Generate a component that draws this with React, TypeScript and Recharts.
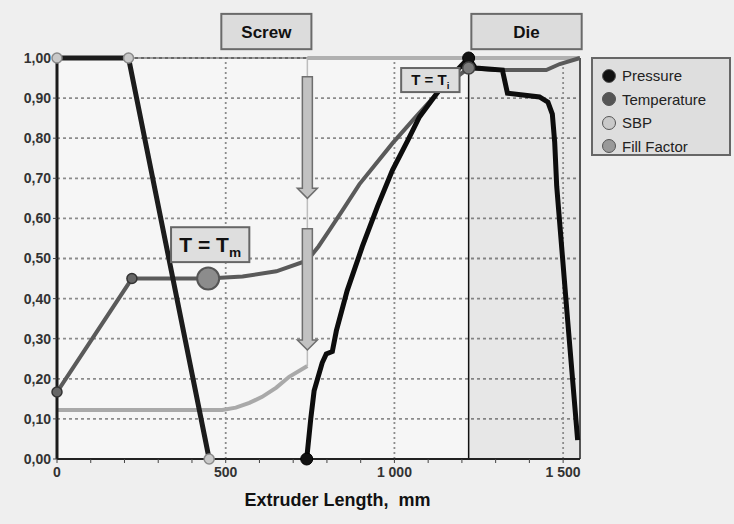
import {
  ComposedChart,
  Line,
  XAxis,
  YAxis,
  CartesianGrid,
  ReferenceArea,
  ReferenceLine,
} from 'recharts';

const xTicks = [0, 100, 200, 300, 400, 500, 600, 700, 800, 900, 1000, 1100, 1200, 1300, 1400, 1500];
const yTicks = [0, 0.1, 0.2, 0.3, 0.4, 0.5, 0.6, 0.7, 0.8, 0.9, 1.0];
const gridX = [500, 1000, 1500];
const dieStart = 1220;
const extruderEnd = 1550;

const pressure = [
  { x: 740, y: 0 }, { x: 752, y: 0.1 }, { x: 762, y: 0.17 }, { x: 786, y: 0.24 },
  { x: 798, y: 0.262 }, { x: 816, y: 0.268 }, { x: 828, y: 0.32 }, { x: 860, y: 0.42 },
  { x: 905, y: 0.53 }, { x: 950, y: 0.63 }, { x: 994, y: 0.72 }, { x: 1040, y: 0.795 },
  { x: 1074, y: 0.853 }, { x: 1133, y: 0.92 }, { x: 1175, y: 0.96 }, { x: 1220, y: 1.0 },
  { x: 1240, y: 0.975 }, { x: 1320, y: 0.97 }, { x: 1335, y: 0.912 }, { x: 1430, y: 0.903 },
  { x: 1455, y: 0.89 }, { x: 1468, y: 0.86 }, { x: 1475, y: 0.79 }, { x: 1481, y: 0.68 },
  { x: 1512, y: 0.36 }, { x: 1543, y: 0.047 },
];

const temperature = [
  { x: 0, y: 0.167 }, { x: 222, y: 0.45 }, { x: 448, y: 0.45 }, { x: 550, y: 0.455 },
  { x: 650, y: 0.468 }, { x: 742, y: 0.495 }, { x: 775, y: 0.53 }, { x: 807, y: 0.57 },
  { x: 850, y: 0.625 }, { x: 896, y: 0.685 }, { x: 994, y: 0.787 }, { x: 1060, y: 0.85 },
  { x: 1133, y: 0.918 }, { x: 1180, y: 0.95 }, { x: 1220, y: 0.975 }, { x: 1300, y: 0.97 },
  { x: 1450, y: 0.97 }, { x: 1490, y: 0.985 }, { x: 1550, y: 1.0 },
];

const sbp = [{ x: 0, y: 1.0 }, { x: 212, y: 1.0 }, { x: 451, y: 0 }];

const fillFactorLow = [
  { x: 0, y: 0.122 }, { x: 490, y: 0.122 }, { x: 530, y: 0.128 }, { x: 570, y: 0.14 },
  { x: 608, y: 0.155 }, { x: 650, y: 0.178 }, { x: 688, y: 0.205 }, { x: 742, y: 0.232 },
];
const fillFactorJump = [{ x: 742, y: 0.232 }, { x: 742, y: 1.0 }];
const fillFactorHigh = [{ x: 742, y: 1.0 }, { x: 1550, y: 1.0 }];

const pressureMarks = [{ x: 740, y: 0 }, { x: 1220, y: 1.0 }];
const temperatureMarks = [{ x: 0, y: 0.167 }, { x: 222, y: 0.45 }];
const meltMark = [{ x: 448, y: 0.45 }];
const dieMark = [{ x: 1220, y: 0.975 }];
const sbpMarks = [{ x: 0, y: 1.0 }, { x: 212, y: 1.0 }, { x: 451, y: 0 }];

// arrows: [top, tip]
const arrows = [
  [0.953, 0.65],
  [0.574, 0.272],
];
const arrowX = 742;

const legendNames = ['Pressure', 'Temperature', 'SBP', 'Fill Factor'];
const legendColors = ['#111111', '#555555', '#c9c9c9', '#999999'];

const FONT = '"Liberation Sans", Arial, sans-serif';

const fmtY = (v: number) => v.toFixed(2).replace('.', ',');
const fmtX = (v: number) => (v % 500 === 0 ? (v >= 1000 ? `${Math.floor(v / 1000)} ${String(v % 1000).padStart(3, '0')}` : String(v)) : '');

function TitleBox(props: any) {
  const { x, y, width, height, text } = props;
  return (
    <g>
      <rect x={x} y={y} width={width} height={height} fill="#dcdcdc" stroke="#6a6a6a" strokeWidth={2} />
      <text
        x={x + width / 2}
        y={y + height / 2 + 6}
        textAnchor="middle"
        fontFamily={FONT}
        fontWeight="bold"
        fontSize={17}
        fill="#111"
      >
        {text}
      </text>
    </g>
  );
}

function TempBox(props: any) {
  const { x, y, width, height, sub, size } = props;
  return (
    <g>
      <rect x={x} y={y} width={width} height={height} fill="#dedede" stroke="#666" strokeWidth={2} />
      <text
        x={x + width / 2}
        y={y + height / 2 + size * 0.33}
        textAnchor="middle"
        fontFamily={FONT}
        fontWeight="bold"
        fontSize={size}
        fill="#111"
      >
        T = T
        <tspan fontSize={size * 0.65} dy={size * 0.25}>
          {sub}
        </tspan>
      </text>
    </g>
  );
}

function DownArrow(props: any) {
  const { x, y, width, height } = props;
  const cx = x + width / 2;
  const bottom = y + height;
  const pts = [
    [cx - 5, y],
    [cx + 5, y],
    [cx + 5, bottom - 10],
    [cx + 10, bottom - 10],
    [cx, bottom],
    [cx - 10, bottom - 10],
    [cx - 5, bottom - 10],
  ]
    .map((p) => p.join(','))
    .join(' ');
  return <polygon points={pts} fill="#c2c2c2" stroke="#6e6e6e" strokeWidth={1.5} />;
}

export default function App() {
  return (
    <div
      style={{
        position: 'absolute',
        left: 0,
        top: 0,
        width: 734,
        height: 524,
        background: '#efefef',
        fontFamily: FONT,
      }}
    >
      <ComposedChart width={734} height={524} margin={{ top: 58, right: 154, left: 7, bottom: 8 }}>
        <CartesianGrid
          vertical={false}
          strokeDasharray="3 3"
          stroke="#8c8c8c"
          strokeWidth={1.8}
          fill="#f6f6f6"
        />
        <XAxis
          dataKey="x"
          type="number"
          domain={[0, extruderEnd]}
          ticks={xTicks}
          tickFormatter={fmtX}
          interval={0}
          height={57}
          tickSize={4}
          tickMargin={4}
          axisLine={{ stroke: '#222', strokeWidth: 2 }}
          tickLine={{ stroke: '#444' }}
          tick={{ fill: '#333', fontSize: 14, fontWeight: 'bold', fontFamily: FONT }}
          label={{
            value: 'Extruder Length,\u00a0\u00a0mm',
            position: 'insideBottom',
            offset: 10,
            dx: 19,
            fill: '#111',
            fontSize: 18,
            fontWeight: 'bold',
            fontFamily: FONT,
          }}
        />
        <YAxis
          dataKey="y"
          type="number"
          domain={[0, 1]}
          ticks={yTicks}
          tickFormatter={fmtY}
          interval={0}
          width={50}
          tickSize={4}
          tickMargin={2}
          axisLine={{ stroke: '#1a1a1a', strokeWidth: 3 }}
          tickLine={{ stroke: '#444' }}
          tick={{ fill: '#333', fontSize: 14, fontWeight: 'bold', fontFamily: FONT }}
        />
        <ReferenceArea x1={dieStart} x2={extruderEnd} y1={0} y2={1} fill="#000" fillOpacity={0.06} stroke="none" />
        {gridX.map((v) => (
          <ReferenceLine key={v} x={v} stroke="#8c8c8c" strokeWidth={1.8} strokeDasharray="2 3" />
        ))}
        <ReferenceLine y={1} stroke="#444" strokeWidth={1} />
        <ReferenceLine x={extruderEnd} stroke="#555" strokeWidth={2} />
        <ReferenceLine x={dieStart} stroke="#111" strokeWidth={1.5} />

        <Line data={fillFactorLow} dataKey="y" stroke="#a9a9a9" strokeWidth={4} dot={false} activeDot={false} isAnimationActive={false} />
        <Line data={fillFactorJump} dataKey="y" stroke="#bdbdbd" strokeWidth={1.5} dot={false} activeDot={false} isAnimationActive={false} />
        <Line data={fillFactorHigh} dataKey="y" stroke="#b0b0b0" strokeWidth={4} dot={false} activeDot={false} isAnimationActive={false} />
        <Line data={temperature} dataKey="y" stroke="#5a5a5a" strokeWidth={4} dot={false} activeDot={false} isAnimationActive={false} />
        <Line data={sbp} dataKey="y" stroke="#1c1c1c" strokeWidth={5} dot={false} activeDot={false} isAnimationActive={false} />
        <Line data={pressure} dataKey="y" stroke="#0d0d0d" strokeWidth={5} dot={false} activeDot={false} isAnimationActive={false} />

        <Line data={sbpMarks} dataKey="y" stroke="none" dot={{ r: 5, fill: '#c9c9c9', stroke: '#8a8a8a', strokeWidth: 1.5 }} activeDot={false} isAnimationActive={false} />
        <Line data={temperatureMarks} dataKey="y" stroke="none" dot={{ r: 5, fill: '#666', stroke: '#333', strokeWidth: 1.5 }} activeDot={false} isAnimationActive={false} />
        <Line data={meltMark} dataKey="y" stroke="none" dot={{ r: 11, fill: '#8c8c8c', stroke: '#555', strokeWidth: 2 }} activeDot={false} isAnimationActive={false} />
        <Line data={pressureMarks} dataKey="y" stroke="none" dot={{ r: 6, fill: '#111', stroke: '#000', strokeWidth: 1 }} activeDot={false} isAnimationActive={false} />
        <Line data={dieMark} dataKey="y" stroke="none" dot={{ r: 6, fill: '#7a7a7a', stroke: '#444', strokeWidth: 1.5 }} activeDot={false} isAnimationActive={false} />

        {arrows.map(([top, tip], i) => (
          <ReferenceArea
            key={i}
            x1={arrowX - 15}
            x2={arrowX + 15}
            y1={tip}
            y2={top}
            zIndex={2000}
            shape={(p: any) => <DownArrow {...p} />}
          />
        ))}
        <ReferenceArea x1={338} x2={570} y1={0.491} y2={0.578} zIndex={2000} shape={(p: any) => <TempBox {...p} sub="m" size={21} />} />
        <ReferenceArea x1={1020} x2={1193} y1={0.915} y2={0.975} zIndex={2000} shape={(p: any) => <TempBox {...p} sub="i" size={15} />} />
        <ReferenceArea x1={487} x2={754} y1={1.022} y2={1.11} ifOverflow="visible" zIndex={2000} shape={(p: any) => <TitleBox {...p} text="Screw" />} />
        <ReferenceArea x1={1228} x2={1555} y1={1.022} y2={1.11} ifOverflow="visible" zIndex={2000} shape={(p: any) => <TitleBox {...p} text="Die" />} />
      </ComposedChart>

      <div
        style={{
          position: 'absolute',
          left: 591,
          top: 57,
          width: 140,
          height: 99,
          background: '#dedede',
          border: '2px solid #666',
          boxSizing: 'border-box',
          paddingTop: 5,
        }}
      >
        {legendNames.map((name, i) => (
          <div key={name} style={{ display: 'flex', alignItems: 'center', height: 23.5 }}>
            <span
              style={{
                display: 'inline-block',
                width: 12,
                height: 12,
                borderRadius: '50%',
                background: legendColors[i],
                border: '1px solid #555',
                marginLeft: 9,
                marginRight: 6,
              }}
            />
            <span style={{ fontSize: 15, color: '#222' }}>{name}</span>
          </div>
        ))}
      </div>
    </div>
  );
}
